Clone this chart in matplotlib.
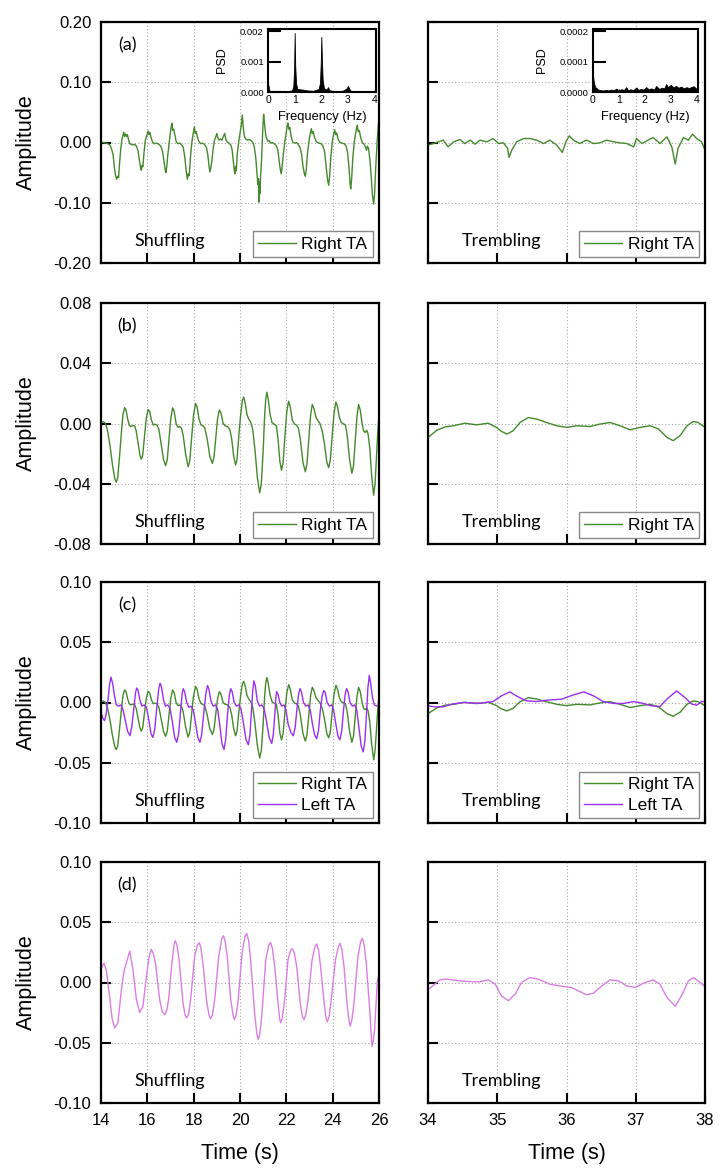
import matplotlib
matplotlib.use('Agg')
import matplotlib.pyplot as plt
from matplotlib.lines import Line2D

plt.rcParams['axes.unicode_minus'] = False
plt.rcParams['font.family'] = ['Liberation Sans', 'DejaVu Sans']

# ---------------- data (time s, amplitude) ----------------
shuf_raw_right = [
    (14.00, 0.000), (14.10, 0.000), (14.20, -0.001), (14.30, -0.002), (14.38, -0.004), (14.45, -0.010),
    (14.52, -0.020), (14.58, -0.042), (14.63, -0.055), (14.68, -0.061), (14.72, -0.056), (14.76, -0.058),
    (14.80, -0.035), (14.85, -0.012), (14.90, 0.005), (14.95, 0.012), (14.98, 0.017), (15.02, 0.010),
    (15.06, 0.014), (15.10, 0.010), (15.14, 0.013), (15.18, 0.006), (15.24, -0.002), (15.30, -0.003),
    (15.38, -0.004), (15.46, -0.003), (15.53, -0.006), (15.60, -0.014), (15.66, -0.030), (15.71, -0.042),
    (15.74, -0.046), (15.77, -0.038), (15.81, -0.040), (15.86, -0.015), (15.92, 0.005), (15.98, 0.012),
    (16.03, 0.019), (16.07, 0.013), (16.11, 0.017), (16.16, 0.008), (16.22, 0.001), (16.30, -0.002),
    (16.40, -0.001), (16.50, -0.003), (16.58, -0.006), (16.66, -0.015), (16.72, -0.032), (16.77, -0.045),
    (16.80, -0.050), (16.84, -0.040), (16.88, -0.022), (16.93, -0.005), (16.98, 0.012), (17.03, 0.026),
    (17.06, 0.032), (17.10, 0.020), (17.14, 0.022), (17.19, 0.012), (17.25, 0.001), (17.32, -0.002),
    (17.40, -0.001), (17.48, -0.004), (17.55, -0.008), (17.62, -0.025), (17.68, -0.048), (17.73, -0.061),
    (17.77, -0.052), (17.81, -0.055), (17.86, -0.025), (17.92, 0.000), (17.98, 0.015), (18.03, 0.026),
    (18.07, 0.015), (18.11, 0.018), (18.16, 0.010), (18.22, 0.002), (18.30, -0.002), (18.38, -0.001),
    (18.46, -0.003), (18.55, -0.008), (18.61, -0.020), (18.66, -0.038), (18.70, -0.049), (18.74, -0.042),
    (18.79, -0.030), (18.84, -0.010), (18.90, 0.004), (18.96, 0.010), (19.00, 0.015), (19.05, 0.007),
    (19.10, 0.004), (19.16, 0.006), (19.22, 0.004), (19.28, 0.010), (19.34, 0.015), (19.39, 0.005),
    (19.45, 0.001), (19.52, -0.001), (19.60, -0.004), (19.66, -0.012), (19.71, -0.030), (19.75, -0.045),
    (19.78, -0.052), (19.81, -0.040), (19.84, -0.047), (19.88, -0.020), (19.94, 0.000), (20.00, 0.015),
    (20.06, 0.030), (20.10, 0.046), (20.14, 0.025), (20.19, 0.010), (20.25, 0.006), (20.32, 0.004),
    (20.40, 0.005), (20.48, 0.003), (20.56, 0.000), (20.62, -0.008), (20.68, -0.025), (20.73, -0.050),
    (20.77, -0.070), (20.80, -0.060), (20.82, -0.099), (20.84, -0.065), (20.86, -0.085), (20.89, -0.055),
    (20.93, -0.030), (20.97, 0.010), (21.00, 0.035), (21.02, 0.047), (21.06, 0.030), (21.12, 0.010),
    (21.20, 0.002), (21.26, 0.003), (21.32, -0.001), (21.40, 0.000), (21.48, -0.002), (21.56, -0.005),
    (21.63, -0.012), (21.69, -0.030), (21.74, -0.045), (21.78, -0.052), (21.82, -0.040), (21.87, -0.020),
    (21.93, 0.000), (21.99, 0.015), (22.04, 0.028), (22.07, 0.032), (22.11, 0.022), (22.15, 0.025),
    (22.20, 0.012), (22.27, 0.001), (22.35, -0.001), (22.43, 0.000), (22.51, -0.003), (22.59, -0.008),
    (22.66, -0.020), (22.72, -0.040), (22.78, -0.052), (22.82, -0.056), (22.86, -0.045), (22.91, -0.020),
    (22.97, 0.000), (23.03, 0.014), (23.08, 0.023), (23.12, 0.015), (23.16, 0.018), (23.22, 0.008),
    (23.30, 0.001), (23.40, -0.001), (23.50, -0.002), (23.58, -0.006), (23.65, -0.015), (23.72, -0.040),
    (23.78, -0.062), (23.83, -0.071), (23.87, -0.055), (23.92, -0.025), (23.98, 0.000), (24.04, 0.014),
    (24.09, 0.021), (24.13, 0.013), (24.17, 0.016), (24.23, 0.006), (24.31, 0.000), (24.40, -0.001),
    (24.50, -0.002), (24.58, -0.006), (24.65, -0.018), (24.71, -0.045), (24.75, -0.068), (24.78, -0.077),
    (24.82, -0.060), (24.87, -0.025), (24.93, 0.000), (24.99, 0.015), (25.04, 0.025), (25.06, 0.029),
    (25.10, 0.018), (25.15, 0.020), (25.21, 0.008), (25.28, 0.000), (25.36, -0.003), (25.42, -0.008),
    (25.46, -0.013), (25.50, -0.006), (25.55, -0.010), (25.61, -0.030), (25.67, -0.060), (25.72, -0.088),
    (25.77, -0.102), (25.81, -0.085), (25.86, -0.040), (25.91, -0.005), (25.96, 0.025), (26.00, 0.036),
]

trem_raw_right = [
    (34.00, -0.0044), (34.08, -0.0017), (34.15, 0.0011), (34.22, 0.0039), (34.29, -0.0072), (34.37, 0.0011),
    (34.46, 0.0050), (34.53, -0.0017), (34.61, 0.0039), (34.68, -0.0028), (34.75, 0.0039), (34.85, 0.0011),
    (34.94, 0.0066), (35.02, -0.0017), (35.09, -0.0006), (35.15, -0.0099), (35.17, -0.0248), (35.21, -0.0127),
    (35.28, 0.0011), (35.38, 0.0066), (35.47, 0.0066), (35.57, 0.0039), (35.67, -0.0017), (35.76, 0.0039),
    (35.86, -0.0044), (35.94, -0.0166), (35.99, 0.0011), (36.04, 0.0110), (36.10, 0.0039), (36.19, -0.0017),
    (36.29, 0.0039), (36.39, -0.0017), (36.48, -0.0006), (36.58, 0.0039), (36.68, 0.0011), (36.77, -0.0006),
    (36.87, -0.0017), (36.97, -0.0072), (37.01, 0.0066), (37.09, -0.0017), (37.16, 0.0028), (37.25, 0.0083),
    (37.35, -0.0017), (37.45, 0.0094), (37.52, -0.0072), (37.57, -0.0359), (37.61, -0.0099), (37.69, 0.0083),
    (37.76, 0.0039), (37.82, 0.0138), (37.88, 0.0066), (37.95, 0.0011), (38.00, -0.0127),
]

shuf_right_ta = [
    (14.00, 0.0010), (14.10, 0.0012), (14.20, 0.0000), (14.30, -0.0060), (14.40, -0.0160), (14.50, -0.0280),
    (14.60, -0.0370), (14.66, -0.0390), (14.72, -0.0360), (14.80, -0.0220), (14.88, -0.0060), (14.95, 0.0060),
    (15.02, 0.0105), (15.08, 0.0090), (15.15, 0.0030), (15.22, -0.0010), (15.28, -0.0020), (15.36, -0.0015),
    (15.45, -0.0015), (15.52, -0.0050), (15.60, -0.0130), (15.68, -0.0210), (15.74, -0.0237), (15.80, -0.0210),
    (15.88, -0.0080), (15.95, 0.0030), (16.03, 0.0093), (16.10, 0.0080), (16.18, 0.0020), (16.26, -0.0010),
    (16.33, -0.0005), (16.42, -0.0010), (16.50, -0.0040), (16.60, -0.0140), (16.70, -0.0240), (16.79, -0.0280),
    (16.86, -0.0240), (16.94, -0.0100), (17.01, 0.0030), (17.09, 0.0104), (17.16, 0.0080), (17.24, 0.0000),
    (17.32, -0.0025), (17.40, -0.0020), (17.47, -0.0030), (17.55, -0.0080), (17.65, -0.0200), (17.76, -0.0287),
    (17.83, -0.0250), (17.91, -0.0100), (17.99, 0.0050), (18.08, 0.0133), (18.15, 0.0110), (18.23, 0.0030),
    (18.32, -0.0010), (18.40, -0.0015), (18.48, -0.0030), (18.58, -0.0100), (18.70, -0.0220), (18.81, -0.0265),
    (18.88, -0.0220), (18.95, -0.0100), (19.03, 0.0030), (19.11, 0.0090), (19.18, 0.0070), (19.27, 0.0000),
    (19.36, -0.0015), (19.46, -0.0020), (19.56, -0.0040), (19.64, -0.0100), (19.73, -0.0220), (19.81, -0.0276),
    (19.87, -0.0240), (19.95, -0.0080), (20.03, 0.0060), (20.10, 0.0150), (20.16, 0.0176), (20.22, 0.0140),
    (20.30, 0.0060), (20.38, 0.0028), (20.46, 0.0010), (20.55, -0.0040), (20.65, -0.0180), (20.75, -0.0360),
    (20.85, -0.0460), (20.92, -0.0400), (21.00, -0.0180), (21.06, 0.0040), (21.11, 0.0160), (21.16, 0.0207),
    (21.22, 0.0160), (21.30, 0.0060), (21.38, 0.0007), (21.47, -0.0005), (21.57, -0.0015), (21.64, -0.0100),
    (21.72, -0.0250), (21.79, -0.0310), (21.86, -0.0260), (21.94, -0.0080), (22.02, 0.0080), (22.10, 0.0148),
    (22.17, 0.0110), (22.26, 0.0020), (22.36, -0.0005), (22.44, -0.0010), (22.52, -0.0030), (22.60, -0.0100),
    (22.72, -0.0260), (22.82, -0.0320), (22.89, -0.0270), (22.97, -0.0100), (23.05, 0.0060), (23.12, 0.0126),
    (23.19, 0.0100), (23.28, 0.0040), (23.37, 0.0017), (23.45, 0.0000), (23.55, -0.0050), (23.65, -0.0140),
    (23.75, -0.0260), (23.83, -0.0293), (23.90, -0.0240), (23.98, -0.0080), (24.06, 0.0070), (24.14, 0.0143),
    (24.21, 0.0110), (24.29, 0.0040), (24.37, 0.0007), (24.46, -0.0002), (24.55, -0.0010), (24.63, -0.0080),
    (24.73, -0.0240), (24.83, -0.0330), (24.90, -0.0280), (24.98, -0.0100), (25.05, 0.0050), (25.12, 0.0126),
    (25.19, 0.0090), (25.27, 0.0000), (25.34, -0.0050), (25.40, -0.0060), (25.47, -0.0045), (25.53, -0.0070),
    (25.60, -0.0160), (25.68, -0.0340), (25.77, -0.0476), (25.83, -0.0400), (25.90, -0.0200), (25.96, -0.0020),
    (26.00, 0.0050),
]

trem_right_ta = [
    (34.00, -0.0092), (34.13, -0.0044), (34.25, -0.0022), (34.37, -0.0015), (34.53, 0.0002), (34.70, -0.0009),
    (34.87, 0.0002), (34.99, -0.0026), (35.06, -0.0052), (35.14, -0.0070), (35.23, -0.0048), (35.33, 0.0007),
    (35.45, 0.0040), (35.57, 0.0029), (35.71, 0.0007), (35.86, -0.0015), (36.00, -0.0026), (36.15, -0.0015),
    (36.34, -0.0020), (36.48, -0.0004), (36.63, 0.0007), (36.77, -0.0015), (36.92, -0.0042), (37.06, -0.0026),
    (37.21, -0.0015), (37.33, -0.0037), (37.45, -0.0092), (37.54, -0.0114), (37.64, -0.0081), (37.74, -0.0015),
    (37.83, 0.0013), (37.90, 0.0007), (38.00, -0.0026),
]

shuf_left_ta = [
    (14.00, -0.008), (14.08, -0.013), (14.15, -0.015), (14.22, -0.010), (14.30, 0.002), (14.37, 0.015),
    (14.43, 0.021), (14.50, 0.016), (14.58, 0.006), (14.66, -0.002), (14.76, -0.003), (14.86, -0.002),
    (14.95, -0.006), (15.05, -0.015), (15.15, -0.024), (15.25, -0.0275), (15.33, -0.020), (15.42, -0.004),
    (15.49, 0.008), (15.54, 0.012), (15.60, 0.010), (15.68, 0.002), (15.76, -0.003), (15.86, -0.002),
    (15.96, -0.004), (16.06, -0.014), (16.16, -0.026), (16.24, -0.029), (16.32, -0.022), (16.41, -0.004),
    (16.49, 0.011), (16.55, 0.016), (16.61, 0.013), (16.70, 0.002), (16.78, -0.003), (16.88, -0.002),
    (16.98, -0.005), (17.08, -0.016), (17.18, -0.029), (17.27, -0.033), (17.35, -0.026), (17.43, -0.008),
    (17.50, 0.007), (17.55, 0.0115), (17.61, 0.009), (17.70, 0.000), (17.79, -0.004), (17.88, -0.003),
    (17.98, -0.006), (18.08, -0.017), (18.18, -0.029), (18.27, -0.033), (18.35, -0.026), (18.44, -0.008),
    (18.53, 0.008), (18.60, 0.014), (18.66, 0.011), (18.75, 0.001), (18.84, -0.003), (18.94, -0.002),
    (19.04, -0.006), (19.13, -0.019), (19.22, -0.034), (19.31, -0.039), (19.38, -0.031), (19.46, -0.010),
    (19.54, 0.006), (19.60, 0.0115), (19.66, 0.009), (19.75, 0.000), (19.84, -0.003), (19.94, -0.002),
    (20.04, -0.005), (20.14, -0.016), (20.26, -0.031), (20.36, -0.035), (20.43, -0.027), (20.50, -0.006),
    (20.55, 0.010), (20.60, 0.018), (20.66, 0.014), (20.74, 0.002), (20.84, -0.003), (20.94, -0.002),
    (21.04, -0.005), (21.14, -0.015), (21.26, -0.029), (21.37, -0.034), (21.44, -0.026), (21.51, -0.008),
    (21.55, 0.004), (21.58, 0.009), (21.64, 0.007), (21.72, 0.000), (21.80, -0.003), (21.90, -0.002),
    (21.98, -0.006), (22.08, -0.018), (22.20, -0.025), (22.30, -0.0275), (22.38, -0.021), (22.46, -0.005),
    (22.53, 0.007), (22.59, 0.0115), (22.65, 0.009), (22.74, 0.000), (22.84, -0.003), (22.94, -0.002),
    (23.03, -0.006), (23.12, -0.017), (23.22, -0.027), (23.31, -0.030), (23.39, -0.023), (23.47, -0.006),
    (23.55, 0.006), (23.62, 0.010), (23.68, 0.008), (23.76, 0.000), (23.86, -0.003), (23.96, -0.002),
    (24.04, -0.006), (24.13, -0.017), (24.23, -0.028), (24.31, -0.031), (24.39, -0.024), (24.47, -0.006),
    (24.54, 0.007), (24.60, 0.0115), (24.66, 0.009), (24.75, 0.000), (24.85, -0.003), (24.95, -0.002),
    (25.04, -0.006), (25.13, -0.020), (25.23, -0.036), (25.32, -0.041), (25.39, -0.032), (25.46, -0.010),
    (25.52, 0.012), (25.58, 0.0225), (25.64, 0.016), (25.72, 0.004), (25.80, -0.002), (25.90, -0.003),
    (26.00, -0.002),
]

trem_left_ta = [
    (34.00, -0.0028), (34.10, -0.0036), (34.22, -0.0036), (34.34, -0.0014), (34.51, 0.0000), (34.75, -0.0006),
    (34.94, 0.0008), (35.06, 0.0055), (35.18, 0.0088), (35.30, 0.0047), (35.42, 0.0014), (35.57, 0.0008),
    (35.71, 0.0019), (35.93, 0.0028), (36.10, 0.0063), (36.25, 0.0088), (36.39, 0.0055), (36.53, 0.0008),
    (36.68, -0.0008), (36.82, -0.0008), (36.97, 0.0008), (37.11, -0.0008), (37.23, -0.0028), (37.35, -0.0033),
    (37.45, 0.0028), (37.59, 0.0096), (37.71, 0.0041), (37.81, -0.0014), (37.88, -0.0022), (37.95, 0.0008),
    (38.00, 0.0008),
]

shuf_filtered = [
    (14.00, 0.012), (14.04, 0.013), (14.13, 0.016), (14.23, 0.010), (14.37, -0.0115), (14.48, -0.030),
    (14.59, -0.0377), (14.73, -0.0335), (14.88, -0.006), (14.99, 0.009), (15.09, 0.016), (15.24, 0.026),
    (15.38, 0.0105), (15.53, -0.0143), (15.67, -0.0248), (15.81, -0.0198), (15.96, 0.005), (16.08, 0.022),
    (16.17, 0.0275), (16.26, 0.024), (16.35, 0.016), (16.53, -0.014), (16.64, -0.024), (16.75, -0.0267),
    (16.84, -0.023), (16.92, -0.014), (17.06, 0.016), (17.15, 0.031), (17.21, 0.0347), (17.28, 0.031),
    (17.37, 0.0187), (17.54, -0.017), (17.63, -0.027), (17.70, -0.0294), (17.78, -0.026), (17.87, -0.014),
    (18.04, 0.0215), (18.16, 0.031), (18.24, 0.033), (18.31, 0.029), (18.40, 0.016), (18.55, -0.014),
    (18.66, -0.027), (18.73, -0.030), (18.81, -0.027), (18.91, -0.014), (19.08, 0.0215), (19.21, 0.036),
    (19.29, 0.0388), (19.36, 0.034), (19.45, 0.0215), (19.60, -0.014), (19.70, -0.027), (19.76, -0.0308),
    (19.83, -0.027), (19.91, -0.017), (20.09, 0.024), (20.21, 0.038), (20.29, 0.0407), (20.37, 0.035),
    (20.46, 0.0187), (20.63, -0.0253), (20.73, -0.043), (20.79, -0.0473), (20.86, -0.042), (20.95, -0.0253),
    (21.11, 0.0187), (21.24, 0.031), (21.32, 0.0333), (21.40, 0.028), (21.50, 0.013), (21.64, -0.017),
    (21.71, -0.030), (21.76, -0.0335), (21.83, -0.029), (21.93, -0.014), (22.07, 0.0187), (22.19, 0.027),
    (22.27, 0.028), (22.35, 0.024), (22.45, 0.013), (22.60, -0.017), (22.69, -0.028), (22.76, -0.0308),
    (22.84, -0.027), (22.94, -0.014), (23.11, 0.0187), (23.24, 0.030), (23.31, 0.032), (23.39, 0.027),
    (23.48, 0.013), (23.63, -0.017), (23.71, -0.029), (23.77, -0.0327), (23.85, -0.028), (23.94, -0.014),
    (24.12, 0.0187), (24.25, 0.030), (24.32, 0.0325), (24.40, 0.027), (24.49, 0.013), (24.63, -0.0198),
    (24.71, -0.032), (24.76, -0.0363), (24.83, -0.031), (24.92, -0.017), (25.09, 0.0215), (25.21, 0.034),
    (25.28, 0.0366), (25.36, 0.031), (25.45, 0.016), (25.60, -0.0226), (25.66, -0.043), (25.70, -0.053),
    (25.75, -0.049), (25.81, -0.039), (25.93, 0.002), (26.00, 0.006),
]

trem_filtered = [
    (34.00, -0.0060), (34.08, -0.0022), (34.17, 0.0022), (34.27, 0.0028), (34.46, 0.0014), (34.65, 0.0006),
    (34.75, 0.0006), (34.87, 0.0022), (34.97, -0.0014), (35.06, -0.0110), (35.16, -0.0151), (35.26, -0.0096),
    (35.35, 0.0000), (35.47, 0.0041), (35.59, 0.0028), (35.76, -0.0014), (35.95, -0.0033), (36.07, -0.0041),
    (36.19, -0.0074), (36.29, -0.0102), (36.39, -0.0088), (36.51, -0.0028), (36.63, 0.0022), (36.75, 0.0014),
    (36.87, -0.0028), (36.99, -0.0041), (37.11, -0.0006), (37.25, 0.0022), (37.35, -0.0014), (37.45, -0.0124),
    (37.57, -0.0198), (37.66, -0.0110), (37.76, 0.0014), (37.83, 0.0041), (37.90, 0.0014), (38.00, -0.0033),
]

# power spectral densities for the insets (Hz, PSD)
psd_freq_shuf = [0.00, 0.05, 0.10, 0.30, 0.50, 0.70, 0.90, 0.95, 0.98, 1.00, 1.02, 1.05, 1.10, 1.30, 1.50,
                 1.70, 1.90, 1.95, 1.98, 2.00, 2.02, 2.05, 2.10, 2.20, 2.25, 2.30, 2.50, 2.80, 2.95, 3.00,
                 3.05, 3.10, 3.30, 3.60, 4.00]
psd_val_shuf = [0.0003, 0.00005, 0.00003, 0.00002, 0.00002, 0.00003, 0.00005, 0.0002, 0.0008, 0.00195,
                0.0009, 0.0003, 0.0001, 0.00008, 0.00005, 0.00004, 0.0001, 0.0003, 0.001, 0.00182, 0.0011,
                0.0004, 0.00012, 0.00008, 0.00016, 0.00006, 0.00003, 0.00004, 0.00012, 0.0002, 0.0001,
                0.00004, 0.00002, 0.00001, 0.00001]
psd_freq_trem = [0.00, 0.02, 0.05, 0.10, 0.15, 0.20, 0.30, 0.40, 0.50, 0.60, 0.70, 0.80, 0.90, 1.00, 1.10,
                 1.20, 1.28, 1.35, 1.45, 1.55, 1.67, 1.75, 1.85, 1.95, 2.05, 2.15, 2.25, 2.35, 2.44, 2.55,
                 2.65, 2.75, 2.82, 2.90, 3.00, 3.10, 3.20, 3.30, 3.40, 3.50, 3.60, 3.70, 3.78, 3.88, 4.00]
psd_val_trem = [5.5e-5, 4.0e-5, 2.5e-5, 1.5e-5, 1.2e-5, 0.8e-5, 0.6e-5, 0.5e-5, 0.7e-5, 0.5e-5, 0.8e-5,
                0.6e-5, 1.1e-5, 0.5e-5, 0.9e-5, 0.7e-5, 1.6e-5, 0.6e-5, 0.9e-5, 0.6e-5, 1.5e-5, 0.7e-5,
                1.0e-5, 0.8e-5, 1.6e-5, 0.9e-5, 1.2e-5, 0.8e-5, 2.0e-5, 1.0e-5, 1.4e-5, 1.2e-5, 2.6e-5,
                1.6e-5, 2.4e-5, 1.5e-5, 2.0e-5, 1.4e-5, 1.8e-5, 1.2e-5, 1.6e-5, 1.3e-5, 1.6e-5, 1.9e-5,
                1.0e-5]

panel_labels = ['(a)', '(b)', '(c)', '(d)']
ylims = [(-0.20, 0.20), (-0.08, 0.08), (-0.10, 0.10), (-0.10, 0.10)]
yticks = [[-0.20, -0.10, 0.00, 0.10, 0.20], [-0.08, -0.04, 0.00, 0.04, 0.08],
          [-0.10, -0.05, 0.00, 0.05, 0.10], [-0.10, -0.05, 0.00, 0.05, 0.10]]
xticks_left = [14, 16, 18, 20, 22, 24, 26]
xticks_right = [34, 35, 36, 37, 38]

GREEN = '#44892c'
PURPLE = '#9b2ff0'
PINK = '#d97fe2'
TEXT_FONT = ['Lato', 'DejaVu Sans']

W, H = 722, 1175
fig = plt.figure(figsize=(W / 100, H / 100), dpi=100)


def px_axes(x0, y0, x1, y1):
    return fig.add_axes([x0 / W, 1 - y1 / H, (x1 - x0) / W, (y1 - y0) / H])


def unzip(pairs):
    return [p[0] for p in pairs], [p[1] for p in pairs]


def style(ax, xlim, xt, ylim, yt, ylab, xlab):
    ax.set_xlim(*xlim)
    ax.set_ylim(*ylim)
    ax.set_xticks(xt)
    ax.set_yticks(yt)
    ax.set_yticklabels(['%.2f' % v for v in yt] if ylab else [])
    ax.set_xticklabels([str(v) for v in xt] if xlab else [])
    ax.tick_params(direction='in', length=7, width=1.5, top=False, right=False,
                   labelsize=12, pad=7, colors='black')
    ax.grid(True, linestyle=(0, (1, 2)), color='#a8a8a8', linewidth=0.8)
    ax.set_axisbelow(True)
    for s in ax.spines.values():
        s.set_linewidth(1.6)


def add_legend(ax, labels, colors, right, bottom):
    handles = [Line2D([], [], color=c, lw=1.0) for c in colors]
    leg = ax.legend(handles, labels, loc='lower right', bbox_to_anchor=(right, bottom),
                    borderaxespad=0, fancybox=False, edgecolor='#8a8a8a', framealpha=1,
                    prop={'size': 12.5}, handlelength=2.2, handletextpad=0.3,
                    borderpad=0.3, labelspacing=0.3)
    leg.get_frame().set_linewidth(1.0)


rows = [(22, 263), (303, 544), (582, 823), (862, 1103)]
left_axes, right_axes = [], []
for i, (y0, y1) in enumerate(rows):
    axl = px_axes(101, y0, 379, y1)
    axr = px_axes(428, y0, 705, y1)
    last = (i == 3)
    style(axl, (14, 26), xticks_left, ylims[i], yticks[i], True, last)
    style(axr, (34, 38), xticks_right, ylims[i], yticks[i], False, last)
    axl.set_ylabel('Amplitude', fontsize=15.5)
    axl.yaxis.set_label_coords(-0.232, 0.5)
    axl.text(0.094, 0.905, panel_labels[i], transform=axl.transAxes, fontsize=13,
             family=TEXT_FONT, ha='center', va='center')
    axl.text(0.248, 0.092, 'Shuffling', transform=axl.transAxes, fontsize=13,
             family=TEXT_FONT, ha='center', va='center')
    axr.text(0.266, 0.092, 'Trembling', transform=axr.transAxes, fontsize=13,
             family=TEXT_FONT, ha='center', va='center')
    if last:
        for ax in (axl, axr):
            ax.set_xlabel('Time (s)', fontsize=15.5)
            ax.xaxis.set_label_coords(0.5, -0.165)
    left_axes.append(axl)
    right_axes.append(axr)

# (a) raw EMG
t, v = unzip(shuf_raw_right)
left_axes[0].plot(t, v, color=GREEN, lw=1.0)
t, v = unzip(trem_raw_right)
right_axes[0].plot(t, v, color=GREEN, lw=1.0)
add_legend(left_axes[0], ['Right TA'], [GREEN], 0.977, 0.025)
add_legend(right_axes[0], ['Right TA'], [GREEN], 0.978, 0.025)

# (b) filtered right TA
t, v = unzip(shuf_right_ta)
left_axes[1].plot(t, v, color=GREEN, lw=1.0)
t, v = unzip(trem_right_ta)
right_axes[1].plot(t, v, color=GREEN, lw=1.0)
add_legend(left_axes[1], ['Right TA'], [GREEN], 0.977, 0.025)
add_legend(right_axes[1], ['Right TA'], [GREEN], 0.978, 0.025)

# (c) right and left TA
t, v = unzip(shuf_right_ta)
left_axes[2].plot(t, v, color=GREEN, lw=1.0)
t, v = unzip(shuf_left_ta)
left_axes[2].plot(t, v, color=PURPLE, lw=1.0)
t, v = unzip(trem_right_ta)
right_axes[2].plot(t, v, color=GREEN, lw=1.0)
t, v = unzip(trem_left_ta)
right_axes[2].plot(t, v, color=PURPLE, lw=1.0)
add_legend(left_axes[2], ['Right TA', 'Left TA'], [GREEN, PURPLE], 0.977, 0.021)
add_legend(right_axes[2], ['Right TA', 'Left TA'], [GREEN, PURPLE], 0.978, 0.021)

# (d) combined / filtered
t, v = unzip(shuf_filtered)
left_axes[3].plot(t, v, color=PINK, lw=1.0)
t, v = unzip(trem_filtered)
right_axes[3].plot(t, v, color=PINK, lw=1.0)

# insets
for (x0, x1, fr, pv, ymax, yt, fmt, lab_x) in [
        (268, 376, psd_freq_shuf, psd_val_shuf, 0.00208, [0.000, 0.001, 0.002], '%.3f', -0.37),
        (593, 698, psd_freq_trem, psd_val_trem, 0.000208, [0.0000, 0.0001, 0.0002], '%.4f', -0.43)]:
    ins = px_axes(x0, 29, x1, 92)
    ins.fill_between(fr, 0, pv, color='black', lw=0.6)
    ins.set_xlim(0, 4.05)
    ins.set_ylim(0, ymax)
    ins.set_xticks([0, 1, 2, 3, 4])
    ins.set_yticks(yt)
    ins.set_yticklabels([fmt % v for v in yt])
    ins.tick_params(axis='y', direction='in', length=9, width=1.5, labelsize=6.8, pad=3)
    ins.tick_params(axis='x', direction='in', length=2, width=1.0, labelsize=7.5, pad=2)
    ins.set_ylabel('PSD', fontsize=9)
    ins.yaxis.set_label_coords(lab_x, 0.5)
    ins.set_xlabel('Frequency (Hz)', fontsize=9.3, labelpad=0)
    ins.xaxis.set_label_coords(0.5, -0.30)
    for s in ins.spines.values():
        s.set_linewidth(1.5)

fig.savefig('out.png', dpi=100)
